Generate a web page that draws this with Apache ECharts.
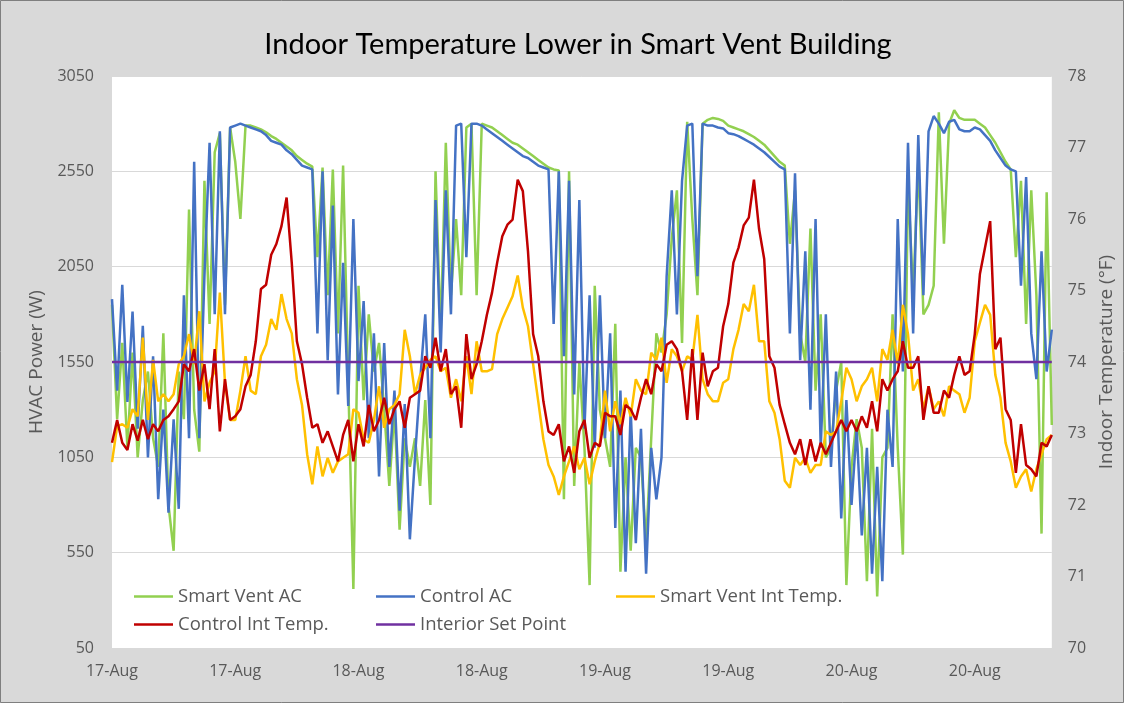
<!DOCTYPE html>
<html><head><meta charset="utf-8">
<script src="https://cdn.jsdelivr.net/npm/echarts@6/dist/echarts.min.js"></script>
<style>html,body{margin:0;padding:0;background:#d9d9d9}#c{width:1124px;height:703px}</style>
</head><body><div id="c"></div>
<script>
// x-axis tick labels (one every 24 half-hour steps = 12 h)
const tickLabels = ['17-Aug','17-Aug','18-Aug','18-Aug','19-Aug','19-Aug','20-Aug','20-Aug'];
const stepsPerTick = 24;

// HVAC power (W), 30-min steps
const smartVentAC = [1850,1250,1650,1100,1600,1050,1350,1500,1150,1000,1700,800,560,1500,1250,2350,1300,1080,2500,1750,
2650,2750,1850,2780,2600,2300,2790,2790,2780,2770,2755,2735,2720,2700,2680,2660,2630,2610,2590,2575,
2100,2570,1900,2560,1700,2580,1450,360,1950,1350,1800,1500,1650,1300,900,1300,670,1150,1000,1150,
900,1350,800,2550,1700,2700,1900,2300,1900,2780,2800,1900,2800,2790,2780,2760,2740,2720,2700,2690,
2670,2650,2630,2610,2590,2570,2560,2555,830,2550,900,1550,1100,380,1950,1300,1150,1000,1750,450,
1050,560,1100,1050,600,1150,1700,1600,1800,2200,2450,1650,2810,2300,1900,2800,2820,2830,2825,2815,
2790,2780,2770,2760,2745,2730,2710,2690,2660,2630,2600,2580,2170,2450,1700,1550,2250,1400,1800,1050,
1100,1400,1550,380,1000,1250,1100,400,1200,320,1050,1100,1800,1100,540,2500,1900,2600,1800,1850,
1950,2860,2170,2800,2870,2830,2820,2820,2820,2800,2780,2740,2700,2650,2600,2560,2100,2500,1750,2450,
1900,650,2440,1220];
const controlAC = [1880,1400,1955,1340,1815,1200,1740,1050,1580,830,1300,760,1250,780,1900,1150,2600,1150,2000,2700,
1800,2760,1800,2780,2790,2800,2790,2780,2770,2760,2740,2710,2700,2690,2660,2640,2610,2580,2570,2560,
1700,2550,1560,2370,1380,2070,1320,2300,1450,1870,1150,1700,950,1650,1000,1400,770,1330,620,1050,
1450,1800,1150,2400,1600,2450,1800,2790,2800,2100,2800,2800,2790,2770,2750,2730,2710,2690,2670,2650,
2630,2620,2600,2580,2570,2560,1750,2550,1580,2500,1380,2400,1200,1900,1100,1900,1150,1700,680,1400,
450,1300,600,1200,440,1100,830,1050,2000,2450,1800,2500,2790,2800,2000,2800,2790,2790,2780,2775,
2750,2745,2735,2720,2705,2690,2670,2650,2625,2600,2575,2560,1700,2540,1560,2130,1300,2300,1100,1800,
1000,1500,730,1350,800,1200,640,1100,440,1000,400,1300,1000,2300,1500,2700,1700,2740,1900,2760,
2840,2800,2750,2810,2820,2770,2760,2760,2780,2770,2740,2710,2660,2620,2580,2560,2550,1950,2520,1700,
1460,2130,1500,1720];

// Indoor temperature (°F), 30-min steps
const smartVentTemp = [72.6,73.1,73.13,73.08,73.34,73.24,74.34,73.19,74.03,73.45,73.55,73.45,73.55,73.97,74.08,74.39,73.97,74.71,73.45,73.71,
73.87,74.97,73.71,73.19,73.19,73.6,74.08,73.6,73.55,74.08,74.24,74.6,74.45,74.95,74.6,74.4,73.76,73.4,72.71,72.29,
72.82,72.4,72.66,72.45,72.61,72.66,72.71,73.34,73.29,72.92,72.87,73.19,73.66,73.08,73.34,73.4,73.55,74.45,74.08,73.55,
73.82,73.92,74.03,74.08,73.87,73.92,73.5,73.76,73.45,74.08,73.55,74.29,73.87,73.87,73.9,74.39,74.6,74.76,74.92,75.21,
74.76,74.5,73.97,73.45,72.92,72.56,72.4,72.14,72.4,72.61,72.82,72.5,72.66,72.29,72.61,72.87,73.6,73.03,73.45,73.13,
73.5,73.24,73.76,73.6,73.55,74.13,74.03,74.34,73.71,74.18,74.08,73.87,74.08,74.03,74.66,73.76,73.55,73.45,73.45,73.71,
73.76,74.18,74.45,74.81,74.71,75.08,74.29,74.29,73.45,73.29,72.92,72.34,72.24,72.66,72.56,72.66,72.45,72.56,72.56,73.03,
72.98,73.03,73.45,73.92,73.76,73.45,73.66,73.76,73.92,73.45,74.18,74.03,74.45,73.97,74.8,74.39,73.6,73.76,73.34,73.66,
73.34,73.45,73.24,73.66,73.6,73.55,73.29,73.5,74.29,74.55,74.8,74.66,73.82,73.5,72.87,72.61,72.24,72.4,72.5,72.19,
72.5,72.71,72.92,72.98];
const controlTemp = [72.87,73.19,72.87,72.77,73.13,72.9,73.19,72.92,73.13,73.03,73.19,73.24,73.34,73.45,73.97,73.87,74.18,73.6,73.97,73.34,
74.18,73.03,73.76,73.19,73.24,73.34,73.66,73.82,74.29,75.02,75.08,75.5,75.65,75.9,76.3,75.39,74.29,73.97,73.5,73.08,
73.13,72.87,73.03,72.82,72.61,72.98,73.19,72.61,73.13,72.82,73.4,73.03,73.19,73.5,73.13,73.34,73.45,73.08,73.5,73.55,
73.6,74.08,73.92,74.34,73.87,74.18,73.55,73.66,73.08,74.39,73.76,73.97,74.29,74.66,74.97,75.39,75.76,75.92,75.99,76.55,
76.39,75.55,74.39,74.08,73.45,73.03,72.98,73.13,72.61,72.82,72.45,73.03,73.19,72.66,72.87,72.82,73.29,73.24,73.24,72.98,
73.4,73.34,73.19,73.5,73.76,73.55,73.97,73.87,74.24,74.29,74.18,73.87,73.19,74.18,73.19,74.13,73.66,73.87,73.92,74.5,
74.81,75.39,75.6,75.91,76.02,76.55,75.86,75.44,74.08,73.92,73.4,73.13,72.87,72.71,72.92,72.56,72.92,72.61,72.87,72.71,
72.87,73.03,73.19,73.03,73.19,73.03,73.24,73.08,73.45,73.03,73.76,73.6,73.76,73.87,74.29,73.92,73.92,74.08,73.19,73.66,
73.29,73.29,73.6,73.5,73.82,74.08,73.82,73.87,74.39,75.23,75.6,75.97,74.18,74.34,73.34,73.19,72.45,73.13,72.56,72.5,
72.4,72.87,72.82,72.98];
const setPoint = 74;

const n = controlAC.length;
const categories = [];
for (let i = 0; i < n; i++) {
  const day = 17 + Math.floor(i / 48);
  const h = Math.floor((i % 48) / 2);
  const m = (i % 2) * 30;
  categories.push(day + '-Aug ' + String(h).padStart(2, '0') + ':' + (m ? '30' : '00'));
}

const txt = '#595959';
const font = "'Open Sans', sans-serif";
const lw = 2.5;
function legendAt(name, left, top) {
  return { data: [name], left: left, top: top, orient: 'horizontal', icon: 'rect',
    itemWidth: 39, itemHeight: 2.5, padding: 0,
    textStyle: { color: txt, fontSize: 18.5, fontFamily: font } };
}

const chart = echarts.init(document.getElementById('c'));
chart.setOption({
  animation: false,
  backgroundColor: '#d9d9d9',
  color: ['#92d050', '#4472c4', '#ffc000', '#c00000', '#7030a0'],
  title: { text: 'Indoor Temperature Lower in Smart Vent Building', left: 578, top: 30,
    textAlign: 'center', padding: 0,
    textStyle: { fontFamily: 'Lato', fontSize: 29, fontWeight: 'normal', color: '#000' } },
  grid: { left: 112, right: 68, top: 76, bottom: 55, show: true, backgroundColor: '#ffffff', borderWidth: 0 },
  legend: [
    legendAt('Smart Vent AC', 134, 587),
    legendAt('Control AC', 376, 587),
    legendAt('Smart Vent Int Temp.', 616, 587),
    legendAt('Control Int Temp.', 134, 615),
    legendAt('Interior Set Point', 376, 615)
  ],
  xAxis: {
    type: 'category', data: categories, boundaryGap: false,
    axisLine: { show: false }, axisTick: { show: false },
    axisLabel: { interval: stepsPerTick - 1, margin: 15, color: txt, fontSize: 16, fontFamily: font,
      formatter: (v, idx) => (idx % stepsPerTick === 0 ? tickLabels[idx / stepsPerTick] : '') },
    splitLine: { show: false }
  },
  yAxis: [
    { type: 'value', min: 50, max: 3050, interval: 500, name: 'HVAC Power (W)', nameLocation: 'middle',
      nameGap: 66, nameRotate: 90,
      nameTextStyle: { color: txt, fontSize: 19, fontFamily: font },
      axisLine: { show: false }, axisTick: { show: false },
      axisLabel: { color: txt, fontSize: 16, fontFamily: font, margin: 18, formatter: v => String(v) },
      splitLine: { lineStyle: { color: '#d9d9d9', width: 1 } } },
    { type: 'value', min: 70, max: 78, interval: 1, position: 'right', name: 'Indoor Temperature (°F)',
      nameLocation: 'middle', nameGap: 44, nameRotate: 90,
      nameTextStyle: { color: txt, fontSize: 19, fontFamily: font },
      axisLine: { show: false }, axisTick: { show: false },
      axisLabel: { color: txt, fontSize: 16, fontFamily: font, margin: 16, formatter: v => String(v) },
      splitLine: { show: false } }
  ],
  series: [
    { name: 'Smart Vent AC', type: 'line', yAxisIndex: 0, data: smartVentAC, showSymbol: false, symbol: 'none',
      lineStyle: { width: lw, color: '#92d050' }, itemStyle: { color: '#92d050' } },
    { name: 'Control AC', type: 'line', yAxisIndex: 0, data: controlAC, showSymbol: false, symbol: 'none',
      lineStyle: { width: lw, color: '#4472c4' }, itemStyle: { color: '#4472c4' } },
    { name: 'Smart Vent Int Temp.', type: 'line', yAxisIndex: 1, data: smartVentTemp, showSymbol: false, symbol: 'none',
      lineStyle: { width: lw, color: '#ffc000' }, itemStyle: { color: '#ffc000' } },
    { name: 'Control Int Temp.', type: 'line', yAxisIndex: 1, data: controlTemp, showSymbol: false, symbol: 'none',
      lineStyle: { width: lw, color: '#c00000' }, itemStyle: { color: '#c00000' } },
    { name: 'Interior Set Point', type: 'line', yAxisIndex: 1,
      data: [[categories[0], setPoint], [categories[n - 1], setPoint]], showSymbol: false, symbol: 'none',
      lineStyle: { width: lw, color: '#7030a0' }, itemStyle: { color: '#7030a0' } }
  ],
  graphic: [{ type: 'rect', shape: { x: 0.5, y: 0.5, width: 1123, height: 702 },
    style: { fill: 'none', stroke: '#7f7f7f', lineWidth: 1 }, silent: true }]
});
</script></body></html>
